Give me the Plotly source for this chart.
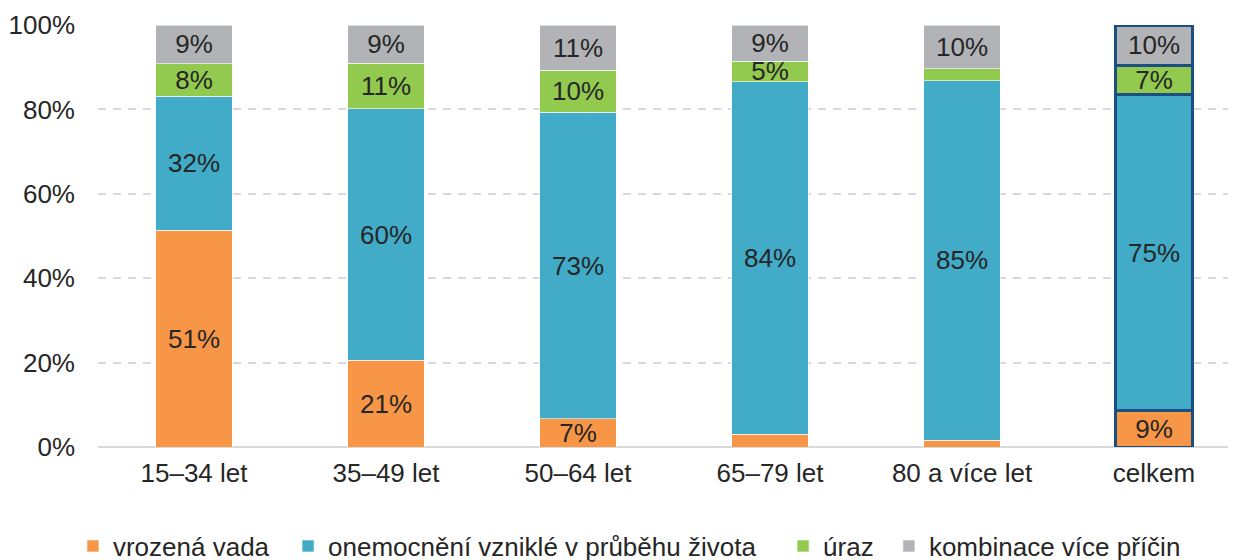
import plotly.graph_objects as go

categories = ["15–34 let", "35–49 let", "50–64 let", "65–79 let", "80 a více let", "celkem"]
series_names = ["vrozená vada", "onemocnění vzniklé v průběhu života", "úraz", "kombinace více příčin"]
vrozena = [51.4, 20.6, 6.7, 3.0, 1.6, 8.6]
onemocneni = [31.7, 59.5, 72.6, 83.6, 85.2, 74.9]
uraz = [7.7, 10.8, 10.0, 4.8, 2.8, 7.0]
kombinace = [9.2, 9.1, 10.7, 8.6, 10.4, 9.5]
colors = ["#F79646", "#41ABC8", "#92C94F", "#B2B3B7"]
y_ticks = [0, 20, 40, 60, 80, 100]

FONT = "Arial, Liberation Sans, sans-serif"
TXT = "#262626"

legend_ids = ["legend", "legend2", "legend3", "legend4"]
legend_x = [-0.022, 0.167, 0.602, 0.695]

fig = go.Figure()
for name, vals, col, lid in zip(series_names, [vrozena, onemocneni, uraz, kombinace], colors, legend_ids):
    labels = [f"{round(v)}%" if v >= 4 else "" for v in vals]
    fig.add_trace(go.Bar(
        x=categories, y=vals, name=name, legend=lid,
        marker=dict(color=col,
                    line=dict(color=["rgba(255,255,255,0.6)"] * 5 + ["#1B4F82"],
                              width=[1] * 5 + [3])),
        text=labels, textposition="inside", insidetextanchor="middle",
        textfont=dict(family=FONT, size=26, color=TXT),
        width=0.4, cliponaxis=False,
    ))

legend_style = dict(orientation="h", xanchor="left", y=-0.179, yanchor="top",
                    font=dict(family=FONT, size=26, color=TXT),
                    itemwidth=30, bgcolor="rgba(0,0,0,0)")

fig.update_layout(
    barmode="stack",
    width=1228, height=552,
    margin=dict(l=90, r=0, t=17, b=113, autoexpand=False),
    paper_bgcolor="white", plot_bgcolor="white",
    font=dict(family=FONT, size=26, color=TXT),
    uniformtext=dict(minsize=26, mode="show"),
    showlegend=True,
    bargap=0.6,
)
for lid, lx in zip(legend_ids, legend_x):
    fig.update_layout({lid: dict(x=lx, **legend_style)})

fig.update_xaxes(
    range=[-0.5, -0.5 + 1138 / 192], showgrid=False, showline=False,
    tickfont=dict(family=FONT, size=26, color=TXT), ticks="", ticklabelstandoff=8,
)
fig.update_yaxes(
    range=[0, 100], tickvals=y_ticks, ticktext=[f"{v}%" for v in y_ticks],
    showgrid=True, gridcolor="#D9D9D9", gridwidth=2, griddash="8px,7px",
    zeroline=True, zerolinecolor="#D9D9D9", zerolinewidth=2,
    showline=False, ticks="", ticklabelstandoff=22,
    tickfont=dict(family=FONT, size=26, color=TXT),
)

fig.write_html("out.html")
